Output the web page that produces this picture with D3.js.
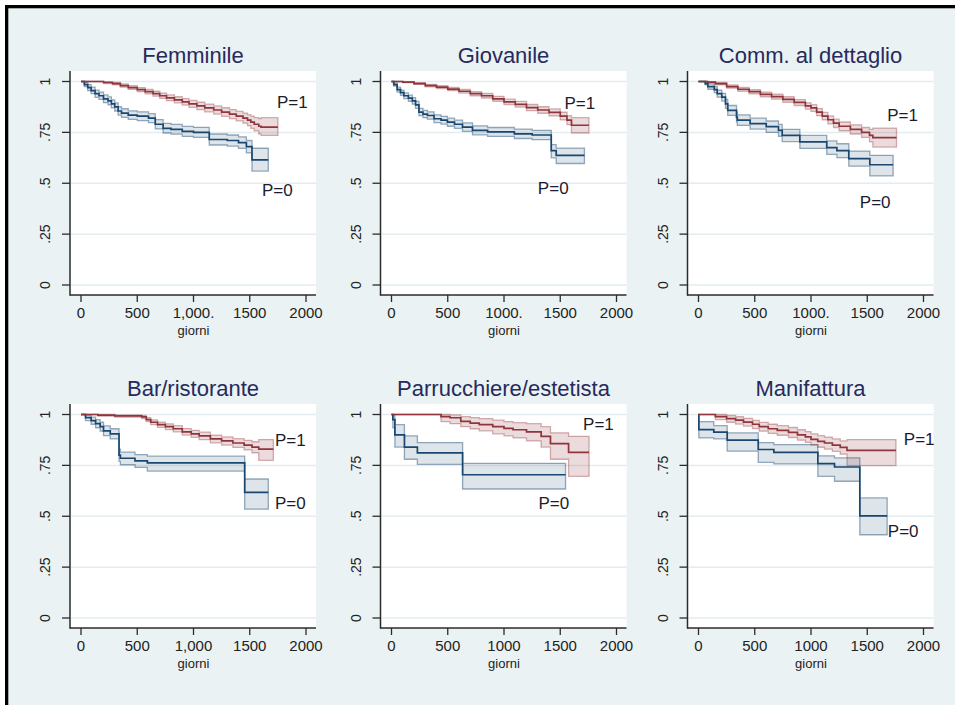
<!DOCTYPE html>
<html>
<head>
<meta charset="utf-8">
<script src="https://cdn.jsdelivr.net/npm/d3@7"></script>
<style>
  html, body { margin: 0; padding: 0; background: #fff; overflow: hidden; }
  svg text { font-family: "Liberation Sans", Arial, sans-serif; }
</style>
</head>
<body>
<svg id="chart" width="955" height="705"></svg>
<script>
// ---- Data -------------------------------------------------------------
const titles = ["Femminile", "Giovanile", "Comm. al dettaglio",
                "Bar/ristorante", "Parrucchiere/estetista", "Manifattura"];
const yTicks = [0, 0.25, 0.5, 0.75, 1];
const yTickLabels = ["0", ".25", ".5", ".75", "1"];
const xTicks = [0, 500, 1000, 1500, 2000];
const xTickLabels = [
  ["0", "500", "1,000.", "1500", "2000"],
  ["0", "500", "1000.", "1500", "2000"],
  ["0", "500", "1000.", "1500", "2000"],
  ["0", "500", "1,000", "1500", "2000"],
  ["0", "500", "1000", "1500", "2000"],
  ["0", "500", "1000", "1500", "2000"]
];
const xTitle = "giorni";
const groupLabels = ["P=0", "P=1"];

// Kaplan-Meier rows: [giorni, sopravvivenza, limite sup., limite inf.]
const femminile0 = [
  [0,1,1,1],[30,0.985,0.995,0.975],[60,0.97,0.985,0.955],[90,0.955,0.972,0.94],
  [125,0.94,0.958,0.922],[160,0.93,0.948,0.912],[200,0.915,0.934,0.896],
  [240,0.905,0.924,0.885],[270,0.89,0.91,0.87],[300,0.875,0.895,0.855],
  [330,0.855,0.876,0.835],[360,0.845,0.866,0.824],[420,0.835,0.856,0.814],
  [500,0.83,0.851,0.808],[600,0.82,0.842,0.798],[660,0.79,0.813,0.767],
  [730,0.77,0.794,0.747],[800,0.765,0.789,0.741],[900,0.755,0.779,0.73],
  [1000,0.75,0.775,0.725],[1140,0.715,0.742,0.688],[1300,0.71,0.737,0.682],
  [1400,0.70,0.728,0.671],[1470,0.68,0.71,0.649],[1520,0.615,0.672,0.56],
  [1665,0.615,0.672,0.56]
];
const femminile1 = [
  [0,1,1,1],[200,0.995,0.999,0.99],[280,0.99,0.996,0.984],[350,0.98,0.988,0.972],
  [420,0.97,0.979,0.961],[500,0.96,0.97,0.95],[570,0.95,0.961,0.939],
  [640,0.94,0.952,0.928],[700,0.93,0.943,0.917],[760,0.92,0.934,0.906],
  [830,0.91,0.925,0.895],[900,0.90,0.916,0.884],[960,0.89,0.907,0.873],
  [1030,0.88,0.898,0.862],[1100,0.87,0.889,0.851],[1180,0.86,0.88,0.84],
  [1250,0.85,0.871,0.829],[1320,0.84,0.862,0.818],[1380,0.83,0.853,0.807],
  [1440,0.82,0.845,0.795],[1480,0.81,0.837,0.783],[1510,0.80,0.83,0.77],
  [1540,0.79,0.822,0.757],[1580,0.78,0.818,0.742],[1600,0.776,0.822,0.735],
  [1750,0.776,0.822,0.735]
];
const giovanile0 = [
  [0,1,1,1],[20,0.985,0.993,0.977],[50,0.96,0.972,0.948],[80,0.945,0.958,0.932],
  [110,0.93,0.944,0.916],[150,0.918,0.933,0.903],[185,0.905,0.921,0.889],
  [214,0.885,0.902,0.868],[244,0.85,0.868,0.832],[280,0.84,0.858,0.822],
  [319,0.833,0.851,0.815],[378,0.817,0.836,0.798],[440,0.81,0.829,0.791],
  [497,0.80,0.82,0.78],[560,0.79,0.81,0.77],[631,0.776,0.797,0.755],
  [720,0.76,0.782,0.738],[854,0.752,0.774,0.73],[1092,0.743,0.766,0.72],
  [1250,0.737,0.76,0.714],[1420,0.66,0.69,0.625],[1464,0.637,0.673,0.597],
  [1715,0.637,0.673,0.597]
];
const giovanile1 = [
  [0,1,1,1],[100,0.997,0.999,0.994],[200,0.99,0.994,0.986],[300,0.98,0.986,0.974],
  [400,0.972,0.979,0.965],[500,0.963,0.971,0.955],[600,0.952,0.961,0.943],
  [700,0.94,0.95,0.93],[800,0.93,0.941,0.919],[900,0.915,0.927,0.903],
  [1000,0.90,0.913,0.887],[1100,0.888,0.902,0.874],[1200,0.872,0.887,0.857],
  [1300,0.86,0.876,0.844],[1400,0.848,0.865,0.831],[1500,0.83,0.849,0.811],
  [1560,0.81,0.832,0.788],[1600,0.785,0.822,0.747],[1755,0.785,0.822,0.747]
];
const dettaglio0 = [
  [0,1,1,1],[60,0.99,0.997,0.983],[83,0.975,0.988,0.962],[140,0.96,0.975,0.945],
  [166,0.94,0.957,0.923],[207,0.923,0.942,0.904],[240,0.89,0.912,0.868],
  [260,0.858,0.882,0.834],[338,0.825,0.85,0.80],[345,0.81,0.836,0.784],
  [459,0.793,0.82,0.766],[602,0.778,0.806,0.75],[711,0.76,0.789,0.731],
  [744,0.735,0.765,0.705],[901,0.703,0.735,0.671],[1140,0.675,0.708,0.642],
  [1230,0.66,0.694,0.626],[1336,0.621,0.658,0.584],[1523,0.591,0.637,0.536],
  [1730,0.591,0.637,0.536]
];
const dettaglio1 = [
  [0,1,1,1],[80,0.997,0.999,0.993],[150,0.99,0.995,0.984],[250,0.975,0.983,0.967],
  [350,0.962,0.971,0.952],[450,0.95,0.96,0.939],[550,0.937,0.948,0.925],
  [650,0.926,0.938,0.913],[750,0.912,0.925,0.898],[850,0.897,0.911,0.882],
  [950,0.88,0.895,0.864],[1000,0.87,0.886,0.853],[1050,0.85,0.867,0.832],
  [1100,0.83,0.848,0.811],[1150,0.812,0.831,0.792],[1200,0.795,0.815,0.774],
  [1250,0.78,0.801,0.758],[1350,0.765,0.787,0.742],[1450,0.75,0.774,0.725],
  [1520,0.735,0.765,0.703],[1550,0.724,0.771,0.678],[1760,0.724,0.771,0.678]
];
const bar0 = [
  [0,1,1,1],[40,0.985,0.997,0.97],[90,0.97,0.987,0.952],[130,0.955,0.975,0.935],
  [170,0.94,0.962,0.918],[200,0.92,0.944,0.896],[260,0.905,0.93,0.88],
  [338,0.80,0.83,0.77],[350,0.785,0.815,0.753],[480,0.772,0.803,0.74],
  [590,0.762,0.795,0.722],[1455,0.617,0.683,0.535],[1665,0.617,0.683,0.535]
];
const bar1 = [
  [0,1,1,1],[150,0.997,1.0,0.992],[300,0.993,0.998,0.987],[540,0.988,0.995,0.98],
  [580,0.975,0.985,0.965],[620,0.962,0.974,0.95],[680,0.95,0.963,0.937],
  [750,0.94,0.954,0.926],[820,0.93,0.945,0.915],[900,0.915,0.931,0.899],
  [980,0.905,0.922,0.888],[1050,0.895,0.913,0.877],[1150,0.88,0.899,0.861],
  [1250,0.87,0.89,0.85],[1350,0.86,0.881,0.838],[1450,0.85,0.873,0.826],
  [1520,0.84,0.866,0.812],[1580,0.83,0.877,0.775],[1710,0.83,0.877,0.775]
];
const parrucchiere0 = [
  [0,1,1,1],[12,0.975,0.995,0.935],[30,0.90,0.95,0.84],[115,0.84,0.895,0.78],
  [230,0.811,0.862,0.755],[632,0.704,0.76,0.634],[1547,0.704,0.76,0.634]
];
const parrucchiere1 = [
  [0,1,1,1],[440,0.99,1.0,0.965],[520,0.984,0.998,0.955],[616,0.966,0.99,0.94],
  [700,0.958,0.985,0.93],[780,0.95,0.98,0.92],[900,0.94,0.972,0.905],
  [1000,0.932,0.965,0.895],[1080,0.925,0.96,0.885],[1200,0.915,0.955,0.87],
  [1330,0.893,0.94,0.84],[1413,0.857,0.91,0.78],[1574,0.814,0.893,0.696],
  [1756,0.814,0.893,0.696]
];
const manifattura0 = [
  [0,1,1,1],[3,0.926,0.965,0.885],[136,0.913,0.945,0.88],[255,0.874,0.91,0.82],
  [531,0.828,0.862,0.765],[670,0.814,0.852,0.757],[1061,0.759,0.797,0.696],
  [1209,0.742,0.787,0.672],[1434,0.502,0.59,0.409],[1677,0.502,0.59,0.409]
];
const manifattura1 = [
  [0,1,1,1],[150,0.99,1.0,0.975],[250,0.98,0.995,0.962],[330,0.972,0.989,0.953],
  [400,0.963,0.981,0.943],[480,0.952,0.971,0.931],[540,0.94,0.961,0.918],
  [620,0.93,0.952,0.907],[700,0.922,0.945,0.898],[800,0.912,0.936,0.887],
  [880,0.90,0.925,0.874],[950,0.89,0.916,0.863],[1000,0.878,0.905,0.85],
  [1060,0.868,0.896,0.839],[1120,0.86,0.889,0.83],[1190,0.85,0.88,0.819],
  [1260,0.838,0.87,0.805],[1320,0.824,0.877,0.749],[1755,0.824,0.877,0.749]
];

const panelSeries = [
  [femminile0, femminile1], [giovanile0, giovanile1], [dettaglio0, dettaglio1],
  [bar0, bar1], [parrucchiere0, parrucchiere1], [manifattura0, manifattura1]
];

// ---- Layout -----------------------------------------------------------
const colLeft = [70, 380.5, 687.5];
const rowTop = [71, 404];
const plotW = 246, plotH = 224;
// where the "P=0" / "P=1" labels sit, in axis units (giorni, survival)
const labelAt = [
  [[1609, 0.466], [1742, 0.898]],
  [[1301, 0.474], [1538, 0.890]],
  [[1434, 0.403], [1677, 0.833]],
  [[1724, 0.562], [1724, 0.870]],
  [[1306, 0.562], [1703, 0.951]],
  [[1683, 0.425], [1825, 0.875]]
];
const lineColor = ["#1a476f", "#90353b"];
const bandFill = ["rgba(26,71,111,0.15)", "rgba(144,53,59,0.18)"];
const bandEdge = ["rgba(26,71,111,0.45)", "rgba(144,53,59,0.38)"];

const svg = d3.select("#chart");

// graph region with black frame on top and left
svg.append("rect").attr("x", 5).attr("y", 5).attr("width", 955).attr("height", 705).attr("fill", "#000");
svg.append("rect").attr("x", 8.3).attr("y", 8.3).attr("width", 955).attr("height", 705).attr("fill", "#eaf2f3");

titles.forEach((title, i) => {
  const col = i % 3, row = Math.floor(i / 3);
  const left = colLeft[col], top = rowTop[row];
  const bottom = top + plotH, right = left + plotW;

  const x = d3.scaleLinear().domain([0, 2000]).range([left + 11, left + 236]);
  const y = d3.scaleLinear().domain([0, 1]).range([top + 214, top + 10.5]);

  const g = svg.append("g");

  // plot region
  g.append("rect").attr("x", left).attr("y", top).attr("width", plotW).attr("height", plotH)
    .attr("fill", "#fff");

  // horizontal grid
  g.selectAll(".grid").data(yTicks).enter().append("line")
    .attr("x1", left + 1).attr("x2", right)
    .attr("y1", d => y(d)).attr("y2", d => y(d))
    .attr("stroke", "#e3ecef").attr("stroke-width", 1.5);

  // confidence bands, then survival curves
  const area = d3.area().curve(d3.curveStepAfter)
    .x(d => x(d[0])).y0(d => y(d[3])).y1(d => y(d[2]));
  const line = d3.line().curve(d3.curveStepAfter)
    .x(d => x(d[0])).y(d => y(d[1]));

  panelSeries[i].forEach((rows, k) => {
    g.append("path").attr("d", area(rows))
      .attr("fill", bandFill[k]).attr("stroke", bandEdge[k]).attr("stroke-width", 1.3);
  });
  panelSeries[i].forEach((rows, k) => {
    g.append("path").attr("d", line(rows))
      .attr("fill", "none").attr("stroke", lineColor[k]).attr("stroke-width", 1.7);
  });

  // group labels
  groupLabels.forEach((lab, k) => {
    g.append("text").attr("x", x(labelAt[i][k][0])).attr("y", y(labelAt[i][k][1]))
      .attr("dominant-baseline", "central").attr("font-size", 17)
      .attr("fill", "#1c1c2c").text(lab);
  });

  // axes
  const axisColor = "#2b2b2b";
  g.append("line").attr("x1", left).attr("x2", left).attr("y1", top).attr("y2", bottom + 0.75)
    .attr("stroke", axisColor).attr("stroke-width", 1.5);
  g.append("line").attr("x1", left).attr("x2", right).attr("y1", bottom).attr("y2", bottom)
    .attr("stroke", axisColor).attr("stroke-width", 1.5);

  yTicks.forEach((t, j) => {
    g.append("line").attr("x1", left - 8).attr("x2", left).attr("y1", y(t)).attr("y2", y(t))
      .attr("stroke", axisColor).attr("stroke-width", 1.3);
    g.append("text")
      .attr("transform", `translate(${left - 25},${y(t)}) rotate(-90)`)
      .attr("text-anchor", "middle").attr("dominant-baseline", "central")
      .attr("font-size", 14).attr("fill", "#222").text(yTickLabels[j]);
  });

  const tickLabelDy = 17;
  const titleDy = 35;
  xTicks.forEach((t, j) => {
    g.append("line").attr("x1", x(t)).attr("x2", x(t)).attr("y1", bottom).attr("y2", bottom + 7)
      .attr("stroke", axisColor).attr("stroke-width", 1.3);
    g.append("text").attr("x", x(t)).attr("y", bottom + tickLabelDy)
      .attr("text-anchor", "middle").attr("dominant-baseline", "central")
      .attr("font-size", 15).attr("fill", "#222").text(xTickLabels[i][j]);
  });

  g.append("text").attr("x", x(1000)).attr("y", bottom + titleDy)
    .attr("text-anchor", "middle").attr("dominant-baseline", "central")
    .attr("font-size", 13).attr("fill", "#222").text(xTitle);

  // panel title
  g.append("text").attr("x", (left + right) / 2).attr("y", top - 16)
    .attr("text-anchor", "middle").attr("dominant-baseline", "central")
    .attr("font-size", 22).attr("fill", "#262a5c").text(title);
});
</script>
</body>
</html>
